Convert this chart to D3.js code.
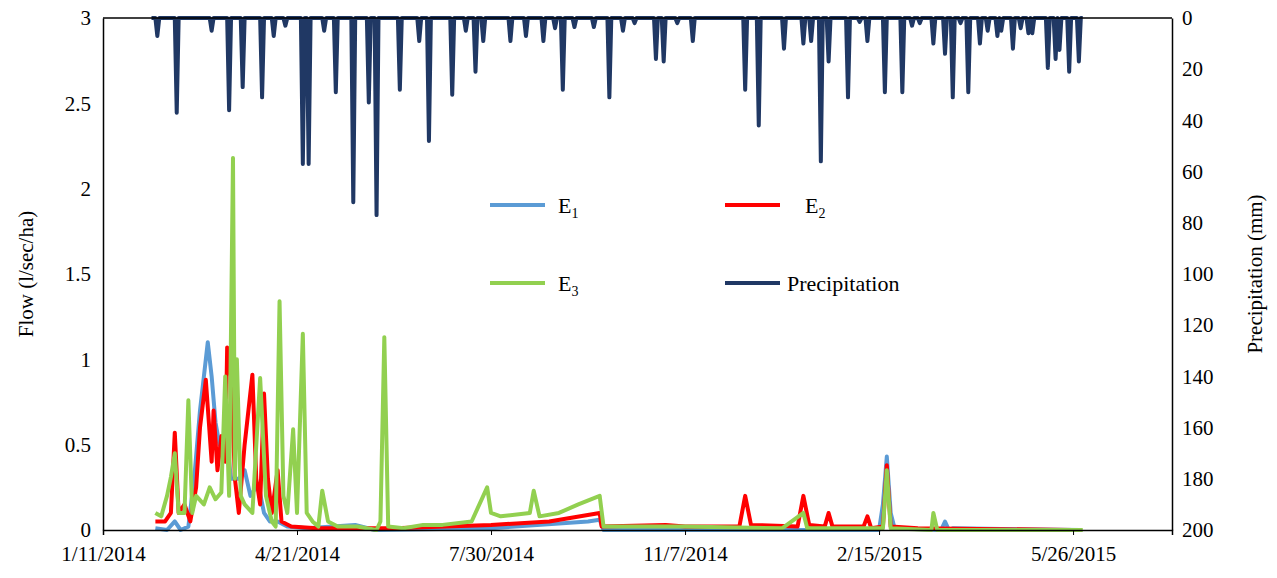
<!DOCTYPE html>
<html>
<head>
<meta charset="utf-8">
<script src="https://cdn.jsdelivr.net/npm/d3@7"></script>
<style>
  body { margin: 0; background: #fff; }
</style>
</head>
<body>
<div id="chart"></div>
<script>
// days counted from 1/11/2014
var startDate = new Date(2014, 0, 11);
var tickDays = [0, 100, 200, 300, 400, 500];

// precipitation events: day offset, mm
var precipDays = [28, 38, 56, 65, 72, 82, 88, 94, 103, 106, 114, 120, 129, 137, 141, 153, 163, 168, 180, 187,
  192, 196, 210, 218, 227, 233, 237, 243, 253, 261, 268, 274, 285, 289, 296, 304, 331, 338, 351, 361,
  365, 370, 374, 384, 390, 394, 403, 412, 417, 421, 428, 434, 438, 442, 446, 452, 456, 461, 463, 469,
  473, 477, 479, 487, 491, 493, 498, 503];
var precipMm = [7, 37, 5, 36, 27, 31, 7, 3, 57, 57, 5, 29, 72, 33, 77, 28, 9, 48, 30, 5,
  21, 9, 9, 7, 9, 4, 28, 3.5, 3.5, 31, 5, 2, 16, 17, 2, 9, 28, 42, 12, 10,
  9, 56, 17, 31, 1.5, 9, 29, 29, 3, 2, 10, 14, 31, 2, 29, 10, 5, 7, 5, 12,
  4, 6, 6, 19.5, 16, 12.5, 21, 17];
var precipFirst = 25, precipLast = 505;

// flow series, l/sec/ha
var e1Days = [27, 33, 37, 40, 44, 47, 50, 52, 54, 56, 58, 60, 62, 64, 66, 70, 73, 76, 80, 83, 86, 90, 95, 105, 130, 140, 200, 250, 256, 258, 400, 402, 404, 406, 408, 432, 434, 436, 438, 504];
var e1Val  = [0.01, 0.0, 0.05, 0.0, 0.02, 0.3, 0.7, 0.9, 1.1, 0.9, 0.63, 0.5, 0.55, 0.5, 0.3, 0.3, 0.35, 0.2, 0.27, 0.1, 0.05, 0.05, 0.02, 0.01, 0.03, 0.0, 0.01, 0.05, 0.06, 0.0, 0.0, 0.15, 0.43, 0.1, 0.01, 0.0, 0.05, 0.0, 0.01, 0.0];

var e2Days = [27, 32, 35, 37, 39, 42, 45, 48, 50, 53, 54, 56, 57, 59, 61, 63, 64, 66, 68, 70, 73, 77, 79, 81, 83, 85, 87, 90, 92, 97, 110, 150, 200, 230, 256, 257, 290, 300, 328, 331, 334, 358, 361, 364, 372, 374, 376, 392, 394, 396, 402, 404, 406, 420, 500];
var e2Val  = [0.05, 0.05, 0.1, 0.57, 0.1, 0.15, 0.05, 0.25, 0.6, 0.88, 0.72, 0.4, 0.7, 0.35, 0.55, 0.4, 1.07, 0.9, 0.3, 0.1, 0.5, 0.91, 0.3, 0.15, 0.8, 0.3, 0.1, 0.35, 0.05, 0.02, 0.01, 0.01, 0.03, 0.05, 0.1, 0.02, 0.03, 0.02, 0.02, 0.2, 0.03, 0.02, 0.2, 0.03, 0.02, 0.1, 0.02, 0.02, 0.08, 0.01, 0.02, 0.38, 0.02, 0.01, 0.0];

var e3Days = [27, 30, 33, 35, 37, 39, 42, 44, 46, 48, 52, 55, 58, 61, 63, 65, 67, 68, 69, 71, 73, 77, 81, 84, 87, 89, 91, 93, 95, 98, 100, 103, 105, 108, 111, 113, 116, 121, 131, 141, 143, 145, 147, 155, 165, 175, 190, 198, 200, 205, 220, 222, 225, 235, 245, 256, 258, 300, 350, 361, 363, 402, 404, 406, 427, 428, 430, 505];
var e3Val  = [0.1, 0.08, 0.2, 0.31, 0.45, 0.1, 0.1, 0.76, 0.1, 0.2, 0.15, 0.25, 0.18, 0.22, 0.9, 0.2, 2.18, 0.3, 1.0, 0.2, 0.15, 0.1, 0.89, 0.2, 0.05, 0.02, 1.34, 0.2, 0.1, 0.59, 0.1, 1.15, 0.1, 0.05, 0.02, 0.23, 0.05, 0.02, 0.02, 0.0, 0.05, 1.13, 0.02, 0.01, 0.03, 0.03, 0.05, 0.25, 0.1, 0.08, 0.1, 0.23, 0.08, 0.1, 0.15, 0.2, 0.02, 0.02, 0.01, 0.1, 0.01, 0.01, 0.35, 0.01, 0.0, 0.1, 0.0, 0.0];

var FONT = 'Liberation Serif';
var width = 1277, height = 578;
var margin = {top: 18, right: 105, bottom: 48, left: 103};
var w = width - margin.left - margin.right;
var h = height - margin.top - margin.bottom;

function dayToDate(d) { return d3.timeDay.offset(startDate, d); }

var x = d3.scaleTime().domain([startDate, dayToDate(551)]).range([0, w]);
var yL = d3.scaleLinear().domain([0, 3]).range([h, 0]);
var yR = d3.scaleLinear().domain([0, 200]).range([0, h]);

var svg = d3.select('#chart').append('svg').attr('width', width).attr('height', height)
  .style('font-family', FONT);
var g = svg.append('g').attr('transform', 'translate(' + margin.left + ',' + margin.top + ')');

// precipitation daily series
var precip = [];
for (var d = precipFirst; d <= precipLast; d++) { precip.push({d: d, v: 0}); }
precipDays.forEach(function(pd, i) { precip[pd - precipFirst].v = precipMm[i]; });

function zip(days, vals) { return days.map(function(dd, i) { return {d: dd, v: vals[i]}; }); }

var lineL = d3.line().x(function(p) { return x(dayToDate(p.d)); }).y(function(p) { return yL(p.v); });
var lineR = d3.line().x(function(p) { return x(dayToDate(p.d)); }).y(function(p) { return yR(p.v); });

var series = [
  {data: zip(e1Days, e1Val), color: '#5b9bd5'},
  {data: zip(e2Days, e2Val), color: '#ff0000'},
  {data: zip(e3Days, e3Val), color: '#92d050'}
];

g.append('path').datum(precip).attr('d', lineR)
  .attr('fill', 'none').attr('stroke', '#203864').attr('stroke-width', 4).attr('stroke-linejoin', 'round');

series.forEach(function(s) {
  g.append('path').datum(s.data).attr('d', lineL)
    .attr('fill', 'none').attr('stroke', s.color).attr('stroke-width', 4).attr('stroke-linejoin', 'round');
});

// axes
var xAxis = d3.axisBottom(x).tickValues(tickDays.map(dayToDate)).tickSize(5)
  .tickFormat(function(t) { return (t.getMonth() + 1) + '/' + t.getDate() + '/' + t.getFullYear(); });
var gx = g.append('g').attr('transform', 'translate(0,' + h + ')').call(xAxis);
var gl = g.append('g').call(d3.axisLeft(yL).tickValues([0, 0.5, 1, 1.5, 2, 2.5, 3]).tickSize(0).tickPadding(12).tickFormat(d3.format('')));
var gr = g.append('g').attr('transform', 'translate(' + w + ',0)')
  .call(d3.axisRight(yR).tickValues(d3.range(0, 201, 20)).tickSize(0).tickPadding(10));
g.append('line').attr('x1', 0).attr('x2', w).attr('y1', 0).attr('y2', 0).attr('stroke', '#000').attr('stroke-width', 1.5);

[gx, gl, gr].forEach(function(a) {
  a.attr('font-family', FONT);
  a.selectAll('path').attr('stroke', '#000').attr('stroke-width', 1.5);
  a.selectAll('text').attr('font-size', 21).attr('fill', '#000').attr('font-family', FONT);
});
gx.selectAll('text').attr('dy', '1.1em');

svg.append('text').attr('transform', 'translate(33,' + (margin.top + h / 2) + ') rotate(-90)')
  .attr('text-anchor', 'middle').attr('font-size', 21).attr('font-family', FONT).text('Flow (l/sec/ha)');
svg.append('text').attr('transform', 'translate(1262,' + (margin.top + h / 2) + ') rotate(-90)')
  .attr('text-anchor', 'middle').attr('font-size', 21).attr('font-family', FONT).text('Precipitation (mm)');

// legend
var legend = [
  {x: 490, y: 205, color: '#5b9bd5', sub: '1'},
  {x: 725, y: 205, color: '#ff0000', sub: '2', off: 80},
  {x: 490, y: 283, color: '#92d050', sub: '3'},
  {x: 725, y: 283, color: '#203864', label: 'Precipitation', off: 62}
];
legend.forEach(function(l) {
  svg.append('line').attr('x1', l.x).attr('x2', l.x + 55).attr('y1', l.y).attr('y2', l.y)
    .attr('stroke', l.color).attr('stroke-width', 4);
  var t = svg.append('text').attr('x', l.x + (l.off || 68)).attr('y', l.y + 8)
    .attr('font-size', 22).attr('font-family', FONT);
  if (l.label) { t.text(l.label); }
  else {
    t.append('tspan').text('E');
    t.append('tspan').attr('font-size', 14).attr('dy', 5).text(l.sub);
  }
});
</script>
</body>
</html>
